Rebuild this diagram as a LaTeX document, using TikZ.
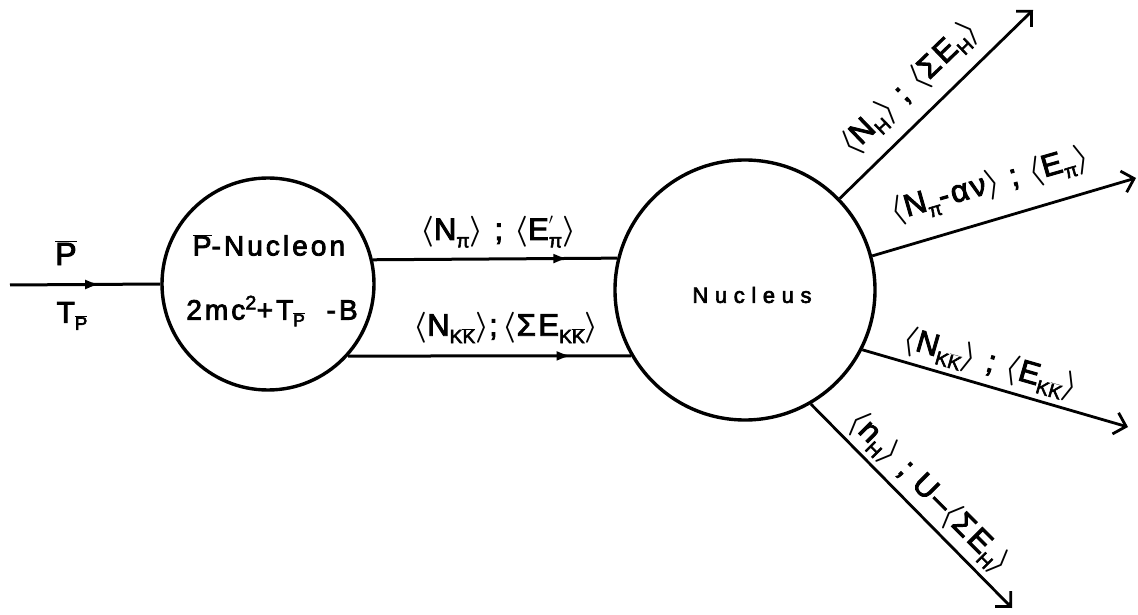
\RequirePackage{fix-cm}
\documentclass[tikz,border=0pt]{standalone}
\usepackage{graphicx}
\usepackage{fontspec}
\setmainfont{Liberation Sans}[FakeBold=3]
\newfontfamily\basefont[FakeBold=3]{Liberation Sans}
\newfontfamily\spacedA[LetterSpace=11,FakeBold=3]{Liberation Sans}
\newfontfamily\spacedB[LetterSpace=30,FakeBold=3]{Liberation Sans}
\newfontfamily\spacedC[LetterSpace=8,FakeBold=3]{Liberation Sans}
\usetikzlibrary{arrows.meta,decorations.markings}
\newcommand{\lsub}[1]{\raisebox{-0.45ex}{\scalebox{0.62}{#1}}}
\newcommand{\obar}[1]{$\overline{\hbox{#1}}$}
\newcommand{\la}{{\boldmath$\langle$}}
\newcommand{\ra}{{\boldmath$\rangle$}}
\begin{document}
\begin{tikzpicture}[x=1pt,y=1pt,
  circ/.style={circle,draw,line width=3.4pt,inner sep=0pt},
  flow/.style={line width=3pt},
  midarrow/.style={postaction={decorate},decoration={markings,mark=at position #1 with {\arrow{Latex[length=15pt,width=10pt]}}}},
  ray/.style={line width=2.8pt,-{Straight Barb[length=11pt,width=22pt,line width=2.8pt]}},
  lab/.style={font=\spacedC\fontsize{31}{36}\selectfont, inner sep=0pt}]
\useasboundingbox (0,0) rectangle (1138,614);
% circles
\node[circ,minimum size=212pt] (pn) at (268,330) {};
\node[circ,minimum size=260pt] (nuc) at (745,324) {};
% circle texts
\node[inner sep=0pt,font=\spacedA\fontsize{28}{32}\selectfont] (pnt) at (269,369) {\obar{P}-Nucleon};
\node[inner sep=0pt,font=\spacedA\fontsize{28}{32}\selectfont] (pnm) at (272,303) {2mc\textsuperscript{2}+T\lsub{\obar{P}}\ \ -B};
\node[inner sep=0pt,font=\spacedB\fontsize{22}{26}\selectfont] (nuct) at (752,319) {Nucleus};
% incoming
\coordinate (in) at (10,329);
\draw[flow,midarrow=0.6] (in) -- (pn.west);
\node[lab,font=\basefont\fontsize{32}{36}\selectfont] (pbar) at (66,361) {\obar{P}};
\node[lab,font=\basefont\fontsize{30}{34}\selectfont] (tp) at (72,298) {T\lsub{\obar{P}}};
% internal flows
\draw[flow,midarrow=0.8] (pn.13.6) -- (nuc.166.2);
\draw[flow,midarrow=0.79] (pn.-42.8) -- (nuc.210.5);
\node[lab] (l1) at (498,382) {\la N\lsub{π}\ra\ ;\ \la E\rlap{\raisebox{0.45ex}{\scalebox{0.7}{$'$}}}\lsub{π}\ra};
\node[lab] (l2) at (506,286) {\la N\lsub{K\obar{K}}\ra;\,\la ΣE\lsub{K\obar{K}}\ra};
% outgoing rays
\coordinate (e1) at (1033,604);
\coordinate (e2) at (1136,436);
\coordinate (e3) at (1128,187);
\coordinate (e4) at (1012,6);
\draw[ray] (nuc.44.4) -- (e1);
\draw[ray] (nuc.15.4) -- (e2);
\draw[ray] (nuc.-27.9) -- (e3);
\draw[ray] (nuc.-60.3) -- (e4);
\node[lab,rotate=44] (r1) at (910,526) {\la N\lsub{H}\ra\ ;\ \la ΣE\lsub{H}\ra};
\node[lab,rotate=16] (r2) at (990,429) {\la N\lsub{π}-αν\ra\ ;\ \la E\lsub{π}\ra};
\node[lab,rotate=-16] (r3) at (990,250) {\la N\lsub{K\obar{K}}\ra\ ;\ \la E\lsub{K\obar{K}}\ra};
\node[lab,rotate=-45] (r4) at (929,121) {\la n\lsub{H}\ra\ ;\ U–\la ΣE\lsub{H}\ra};
\end{tikzpicture}
\end{document}
